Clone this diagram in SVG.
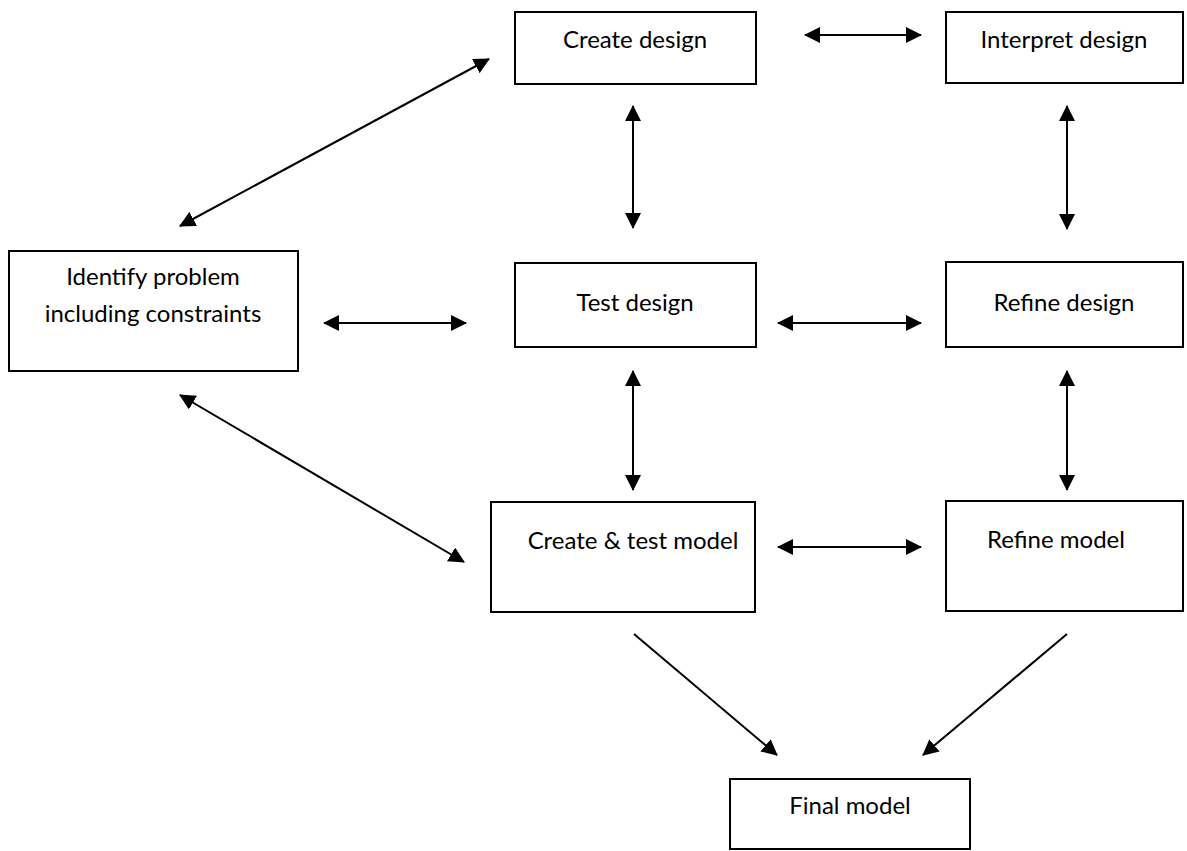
<svg xmlns="http://www.w3.org/2000/svg" width="1187" height="851" viewBox="0 0 1187 851">
<style>
.box{fill:#fff;stroke:#000;stroke-width:2}
.lbl{font-family:Lato,"Liberation Sans",sans-serif;font-size:24px;fill:#000;text-anchor:middle}
.c{stroke:#000;stroke-width:2;fill:none}
.d{marker-start:url(#ah);marker-end:url(#ah)}
.s{marker-end:url(#ah)}
</style>
<defs>
<marker id="ah" viewBox="0 0 16 16" refX="15" refY="8" markerWidth="16" markerHeight="16" markerUnits="userSpaceOnUse" orient="auto-start-reverse">
<path d="M0,0 L16,8 L0,16 Z" fill="#000"/>
</marker>
</defs>
<rect width="1187" height="851" fill="#fff"/>
<g id="connectors">
<line class="c d" x1="805" y1="35" x2="921" y2="35"/>
<line class="c d" x1="180" y1="226" x2="489" y2="59"/>
<line class="c d" x1="180" y1="395" x2="464" y2="562"/>
<line class="c d" x1="324" y1="323" x2="466" y2="323"/>
<line class="c d" x1="778" y1="323" x2="921" y2="323"/>
<line class="c d" x1="778" y1="547" x2="921" y2="547"/>
<line class="c d" x1="633" y1="106" x2="633" y2="228"/>
<line class="c d" x1="1067" y1="106" x2="1067" y2="229"/>
<line class="c d" x1="633" y1="371" x2="633" y2="490"/>
<line class="c d" x1="1067" y1="371" x2="1067" y2="490"/>
<line class="c s" x1="634" y1="634" x2="777" y2="755"/>
<line class="c s" x1="1067" y1="634" x2="923" y2="755"/>
</g>
<g id="create-design"><rect class="box" x="515" y="12" width="241" height="72"/><text class="lbl" x="635" y="48">Create design</text></g>
<g id="interpret-design"><rect class="box" x="946" y="12" width="237" height="71"/><text class="lbl" x="1064" y="48">Interpret design</text></g>
<g id="identify-problem"><rect class="box" x="9" y="251" width="289" height="120"/><text class="lbl" x="153" y="285">Identify problem</text><text class="lbl" x="153" y="322">including constraints</text></g>
<g id="test-design"><rect class="box" x="515" y="263" width="241" height="84"/><text class="lbl" x="635" y="311">Test design</text></g>
<g id="refine-design"><rect class="box" x="946" y="262" width="237" height="85"/><text class="lbl" x="1064" y="311">Refine design</text></g>
<g id="create-test-model"><rect class="box" x="491" y="502" width="264" height="110"/><text class="lbl" x="633" y="549">Create &amp; test model</text></g>
<g id="refine-model"><rect class="box" x="946" y="501" width="237" height="110"/><text class="lbl" x="1056" y="548">Refine model</text></g>
<g id="final-model"><rect class="box" x="730" y="779" width="240" height="70"/><text class="lbl" x="850" y="814">Final model</text></g>
</svg>
